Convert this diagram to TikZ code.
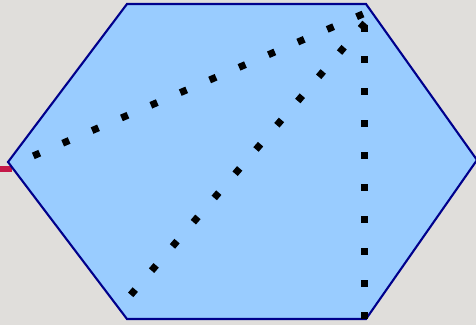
\documentclass[tikz,border=0pt]{standalone}
\usepackage{tikz}
\usetikzlibrary{positioning,calc}
\usepackage{xcolor}
\definecolor{bgGray}{RGB}{224,222,219}
\definecolor{hexBlue}{RGB}{153,204,255}
\definecolor{hexEdge}{RGB}{0,0,140}
\definecolor{stubRed}{RGB}{196,24,72}

\begin{document}
\begin{tikzpicture}[x=0.02cm, y=-0.02cm,
  hexface/.style={draw=hexEdge, fill=hexBlue, line width=1.2pt, line join=miter},
  dotline/.style={line width=0.14cm, dash pattern=on 0.14cm off 0.5cm, black}]
  % background
  \fill[bgGray] (0,0) rectangle (476,325);
  \useasboundingbox (0,0) rectangle (476,325);

  % red stub on the left
  \coordinate (stubA) at (0,169);
  \coordinate (stubB) at (12,169);
  \draw[stubRed, line width=0.12cm] (stubA) -- (stubB);

  % hexagon corners
  \coordinate (hexL)  at (8,162);
  \coordinate (hexTL) at (127,4);
  \coordinate (hexTR) at (366,4);
  \coordinate (hexR)  at (477,160);
  \coordinate (hexBR) at (366,319);
  \coordinate (hexBL) at (127,319);
  \draw[hexface] (hexL) -- (hexTL) -- (hexTR) -- (hexR) -- (hexBR) -- (hexBL) -- cycle;

  % dotted lines
  \coordinate (topA) at (363,14);
  \coordinate (topB) at (365,23);
  \coordinate (topC) at (364,24.5);
  \coordinate (endA) at (33,156);
  \coordinate (endB) at (128,298);
  \coordinate (endC) at (364,321);
  \draw[dotline] (topA) -- (endA);
  \draw[dotline] (topB) -- (endB);
  \draw[dotline] (topC) -- (endC);
\end{tikzpicture}
\end{document}
